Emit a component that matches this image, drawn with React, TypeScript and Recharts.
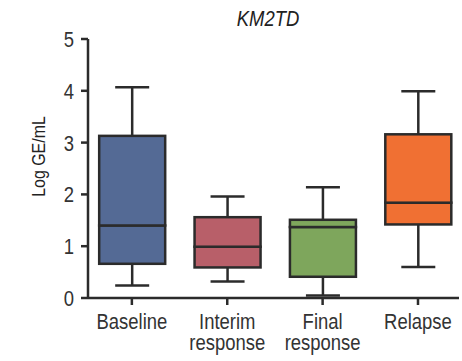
import { BarChart, Bar, XAxis, YAxis } from 'recharts';

// KM2TD levels (log GE/mL) by sampling point
const groups = ['Baseline', 'Interim response', 'Final response', 'Relapse'];
const mins = [0.24, 0.32, 0.05, 0.6];
const q1s = [0.66, 0.59, 0.41, 1.42];
const medians = [1.4, 0.99, 1.37, 1.84];
const q3s = [3.13, 1.56, 1.51, 3.16];
const maxes = [4.07, 1.96, 2.14, 3.99];
const yTicks = [0, 1, 2, 3, 4, 5];

const boxColors = ['#546a95', '#b85f69', '#7ea65c', '#f07033'];
const ink = '#2b2b2b';
const font = '"Liberation Sans", Arial, sans-serif';
// no condensed face is available, so text is squeezed horizontally
const SQUEEZE = 0.84;

// stacked segments: invisible base, lower whisker, lower half, upper half, upper whisker
const rows = groups.map((name, i) => ({
  pos: i,
  name,
  base: mins[i],
  lowWhisker: q1s[i] - mins[i],
  lowBox: medians[i] - q1s[i],
  highBox: q3s[i] - medians[i],
  highWhisker: maxes[i] - q3s[i],
}));

const CAP = 34;

function Narrow({ x, y, anchor, size, rotate, color, italic, lines }: any) {
  const t = `translate(${x},${y})${rotate ? ` rotate(${rotate})` : ''} scale(${SQUEEZE},1)`;
  const parts: string[] = Array.isArray(lines) ? lines : [lines];
  return (
    <g transform={t}>
      <text
        x={0}
        y={0}
        textAnchor={anchor}
        fontSize={size}
        fontFamily={font}
        fontStyle={italic ? 'italic' : 'normal'}
        fill={color || '#333'}
      >
        {parts.map((s, k) => (
          <tspan key={k} x={0} dy={k === 0 ? 0 : 21.5}>
            {s}
          </tspan>
        ))}
      </text>
    </g>
  );
}

function Whisker(props: any, capAtTop: boolean) {
  const { x, y, width, height } = props;
  const cx = x + width / 2;
  const capY = capAtTop ? y : y + height;
  return (
    <g>
      <line x1={cx} x2={cx} y1={y} y2={y + height} stroke={ink} strokeWidth={2.5} />
      <line x1={cx - CAP / 2} x2={cx + CAP / 2} y1={capY} y2={capY} stroke={ink} strokeWidth={2.5} />
    </g>
  );
}

function BoxHalf(props: any) {
  const { x, y, width, height, index } = props;
  return (
    <rect
      x={x}
      y={y}
      width={width}
      height={height}
      fill={boxColors[index]}
      stroke={ink}
      strokeWidth={2.5}
    />
  );
}

function GroupTick(props: any) {
  const { x, y, payload } = props;
  return (
    <Narrow x={x} y={y + 17} anchor="middle" size={22} lines={groups[payload.value].split(' ')} />
  );
}

function ValueTick(props: any) {
  const { x, y, payload } = props;
  return <Narrow x={x} y={y + 8} anchor="end" size={22} lines={String(payload.value)} />;
}

function AxisTitle(props: any) {
  const { viewBox } = props;
  return (
    <Narrow
      x={45}
      y={viewBox.y + viewBox.height / 2 - 12}
      anchor="middle"
      size={19}
      rotate={-90}
      color="#222"
      lines="Log GE/mL"
    />
  );
}

export default function App() {
  return (
    <div style={{ position: 'absolute', left: 0, top: 0, width: 462, height: 361, background: '#fff' }}>
      <BarChart
        width={462}
        height={361}
        data={rows}
        margin={{ top: 39, right: 3, bottom: 0, left: 28 }}
        barSize={66}
      >
        <XAxis
          dataKey="pos"
          type="number"
          domain={[-0.46, 3.43]}
          ticks={[0, 1, 2, 3]}
          allowDataOverflow
          height={63}
          tickSize={7}
          tickMargin={7}
          axisLine={{ stroke: ink, strokeWidth: 2.5 }}
          tickLine={{ stroke: ink, strokeWidth: 2.5 }}
          tick={<GroupTick />}
          interval={0}
        />
        <YAxis
          type="number"
          domain={[0, 5]}
          ticks={yTicks}
          width={60}
          tickSize={7}
          tickMargin={7}
          axisLine={{ stroke: ink, strokeWidth: 2.5 }}
          tickLine={{ stroke: ink, strokeWidth: 2.5 }}
          tick={<ValueTick />}
          label={<AxisTitle />}
        />
        <Bar dataKey="base" stackId="box" fill="none" isAnimationActive={false} />
        <Bar
          dataKey="lowWhisker"
          stackId="box"
          isAnimationActive={false}
          shape={(p: any) => Whisker(p, false)}
        />
        <Bar dataKey="lowBox" stackId="box" isAnimationActive={false} shape={BoxHalf} />
        <Bar dataKey="highBox" stackId="box" isAnimationActive={false} shape={BoxHalf} />
        <Bar
          dataKey="highWhisker"
          stackId="box"
          isAnimationActive={false}
          shape={(p: any) => Whisker(p, true)}
        />
        <Narrow x={268} y={26} anchor="middle" size={22} italic color="#222" lines="KM2TD" />
      </BarChart>
    </div>
  );
}
